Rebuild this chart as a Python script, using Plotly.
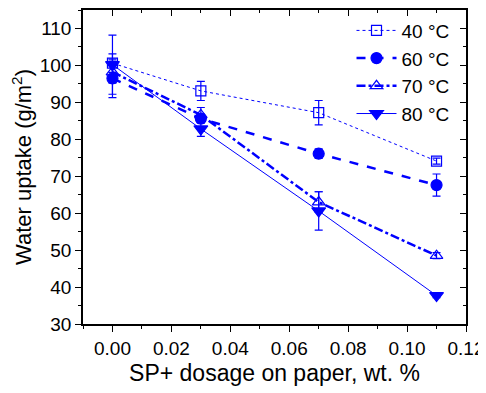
import plotly.graph_objects as go

dosage = [0.00, 0.03, 0.07, 0.11]
series_names = ["40 °C", "60 °C", "70 °C", "80 °C"]
uptake_40 = [100.6, 93.1, 87.2, 74.1]
err_40 = [2.5, 2.6, 3.3, 0.8]
uptake_60 = [96.5, 85.6, 76.1, 67.6]
err_60 = [5.2, 1.2, 1.3, 3.0]
uptake_70 = [98.2, 86.6, 63.0, 48.5]
err_70 = [3.0, 2.0, 2.8, 0.8]
uptake_80 = [100.2, 82.8, 60.6, 37.7]
err_80 = [8.0, 2.0, 5.2, 0.6]

x_ticks = [0.00, 0.02, 0.04, 0.06, 0.08, 0.10, 0.12]
y_ticks = [30, 40, 50, 60, 70, 80, 90, 100, 110]

BLUE = "#0000FF"
FONT = "Liberation Sans, Arial, sans-serif"

styles = [
    dict(dash="dot", width=1, symbol="square-open", size=10),
    dict(dash="dash", width=2.5, symbol="circle", size=11),
    dict(dash="dashdot", width=2.5, symbol="triangle-up-open", size=11),
    dict(dash="solid", width=1, symbol="triangle-down", size=12),
]
data = [(uptake_40, err_40), (uptake_60, err_60), (uptake_70, err_70), (uptake_80, err_80)]

fig = go.Figure()
for name, (vals, errs), st in zip(series_names, data, styles):
    fig.add_trace(go.Scatter(
        x=dosage, y=vals, name=name, mode="lines+markers",
        line=dict(color=BLUE, width=st["width"], dash=st["dash"]),
        marker=dict(symbol=st["symbol"], size=st["size"], color=BLUE,
                    line=dict(color=BLUE, width=1.2)),
        error_y=dict(type="data", array=errs, visible=True, color=BLUE,
                     thickness=1.2, width=4),
    ))

axis_common = dict(showline=True, linecolor="black", linewidth=1.5,
                   showgrid=False, zeroline=False, ticklen=6, tickwidth=1.2,
                   tickcolor="black", automargin=False)

# page body has an 8px default margin, so the figure is sized to fit the window
fig.update_layout(
    width=478, height=385,
    margin=dict(l=75, r=20, t=2, b=69),
    paper_bgcolor="white", plot_bgcolor="white",
    font=dict(family=FONT, size=19, color="black"),
    showlegend=True,
    legend=dict(x=0.97, y=0.995, xanchor="right", yanchor="top",
                bgcolor="rgba(0,0,0,0)", font=dict(size=19, family=FONT),
                itemwidth=40, tracegroupgap=0),
    xaxis=dict(range=[-0.01, 0.12], tickvals=x_ticks,
               ticktext=[f"{v:.2f}" for v in x_ticks], ticks="outside",
               minor=dict(dtick=0.01, ticks="outside", ticklen=3, tickcolor="black", tickwidth=1.2),
               title=dict(text="SP+ dosage on paper, wt. %", font=dict(size=23), standoff=7),
               **axis_common),
    yaxis=dict(range=[30, 115], tickvals=y_ticks, ticks="outside",
               minor=dict(dtick=5, ticks="outside", ticklen=3, tickcolor="black", tickwidth=1.2),
               title=dict(text="Water uptake (g/m<sup>2</sup>)", font=dict(size=22), standoff=6),
               **axis_common),
    xaxis2=dict(overlaying="x", side="top", range=[-0.01, 0.12], tickvals=x_ticks,
                showticklabels=False, ticks="inside",
                minor=dict(dtick=0.01, ticks="inside", ticklen=3, tickcolor="black", tickwidth=1.2),
                **axis_common),
    yaxis2=dict(overlaying="y", side="right", range=[30, 115], tickvals=y_ticks,
                showticklabels=False, ticks="inside",
                minor=dict(dtick=5, ticks="inside", ticklen=3, tickcolor="black", tickwidth=1.2),
                **axis_common),
)
fig.add_trace(go.Scatter(x=[None], y=[None], xaxis="x2", yaxis="y2",
                         showlegend=False, hoverinfo="skip"))

fig.write_html("out.html")
